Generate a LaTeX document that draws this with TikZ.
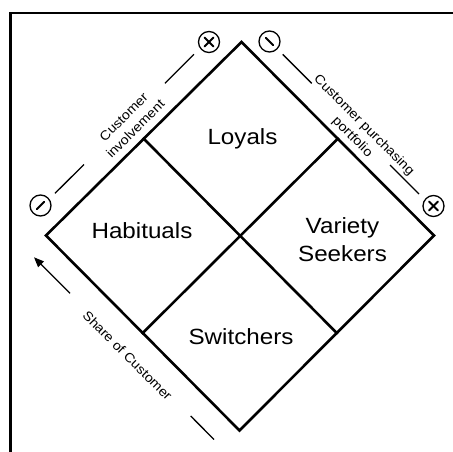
\documentclass[tikz,border=0pt]{standalone}
\usepackage{fontspec}
\usepackage{graphicx}
\setmainfont{Liberation Sans}
\usetikzlibrary{calc,arrows.meta}
\newcommand\widetext[1]{\scalebox{1.1}[1]{#1}}
\begin{document}
\begin{tikzpicture}[x=1pt,y=-1pt,
  quadline/.style={line width=2.6pt, line join=miter, line cap=rect},
  frameline/.style={line width=2.8pt},
  axisline/.style={line width=1.3pt},
  signmark/.style={line width=2pt, line cap=round},
  signcircle/.style={circle, draw, line width=1.3pt, minimum size=21pt, inner sep=0pt},
  biglabel/.style={font=\fontsize{22}{28}\selectfont, align=center, inner sep=0pt},
  smalllabel/.style={font=\fontsize{13}{16.5}\selectfont, align=center, inner sep=0pt}]
\useasboundingbox (0,0) rectangle (453,452);
\clip (0,0) rectangle (453,452);
% frame (right and bottom edges lie outside the picture)
\draw[frameline] (10.5,13) rectangle (480,480);

% diamond
\coordinate (T) at (241.5,42);
\coordinate (R) at (434,235.5);
\coordinate (B) at (239.5,430.5);
\coordinate (L) at (46,235.5);
\coordinate (TL) at ($(T)!0.5!(L)$);
\coordinate (TR) at ($(T)!0.5!(R)$);
\coordinate (BL) at ($(B)!0.5!(L)$);
\coordinate (BR) at ($(B)!0.5!(R)$);
\draw[quadline] (T) -- (R) -- (B) -- (L) -- cycle;
\draw[quadline] (TL) -- (BR);
\draw[quadline] (TR) -- (BL);

% quadrant labels
\node[biglabel] (loyals) at (242.5,139) {\widetext{Loyals}};
\node[biglabel] (habituals) at (142,231) {\widetext{Habituals}};
\node[biglabel] (switchers) at (241,337) {\widetext{Switchers}};
\node[biglabel] (variety) at (342.5,239.5) {\widetext{Variety}\\\widetext{Seekers}};

% sign circles
\node[signcircle] (minusL) at (40.5,205.5) {};
\node[signcircle] (plusTL) at (209,42) {};
\node[signcircle] (minusTR) at (269.5,41.5) {};
\node[signcircle] (plusR) at (433.5,206) {};
\draw[signmark] ($(minusL)+(-3.7,3.7)$) -- ($(minusL)+(3.7,-3.7)$);
\draw[signmark] ($(minusTR)+(-3.7,-3.7)$) -- ($(minusTR)+(3.7,3.7)$);
\draw[signmark] ($(plusTL)+(-4.5,-4.5)$) -- ($(plusTL)+(4.5,4.5)$);
\draw[signmark] ($(plusTL)+(-4.5,4.5)$) -- ($(plusTL)+(4.5,-4.5)$);
\draw[signmark] ($(plusR)+(-4.5,-4.5)$) -- ($(plusR)+(4.5,4.5)$);
\draw[signmark] ($(plusR)+(-4.5,4.5)$) -- ($(plusR)+(4.5,-4.5)$);

% customer involvement axis
\coordinate (ciA1) at (55,193.3);
\coordinate (ciA2) at (84,164.5);
\coordinate (ciB1) at (165,83.3);
\coordinate (ciB2) at (194,54.3);
\draw[axisline] (ciA1) -- (ciA2);
\draw[axisline] (ciB1) -- (ciB2);
\node[smalllabel, rotate=45] (involve) at (129.5,123) {\widetext{Customer}\\\widetext{involvement}};

% customer purchasing portfolio axis
\coordinate (cpA1) at (282.7,54.3);
\coordinate (cpA2) at (311.7,83.3);
\coordinate (cpB1) at (390,165);
\coordinate (cpB2) at (419,194);
\draw[axisline] (cpA1) -- (cpA2);
\draw[axisline] (cpB1) -- (cpB2);
\node[smalllabel, rotate=-45] (portfolio) at (358,131.5) {\widetext{Customer purchasing}\\\widetext{portfolio}};

% share of customer axis
\coordinate (scA1) at (70,293.3);
\coordinate (scA2) at (34,257.3);
\coordinate (scB1) at (190.7,416);
\coordinate (scB2) at (214,439.5);
\draw[axisline, -{Triangle[length=10pt,width=8pt]}] (scA1) -- (scA2);
\draw[axisline] (scB1) -- (scB2);
\node[smalllabel, rotate=-45] (share) at (127.5,355.5) {\widetext{Share of Customer}};
\end{tikzpicture}
\end{document}
